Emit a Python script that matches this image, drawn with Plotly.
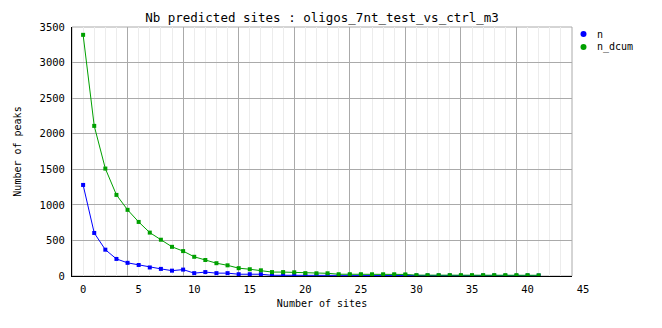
import plotly.graph_objects as go

sites = list(range(0, 42))
n = [1280, 605, 370, 240, 185, 155, 120, 100, 75, 90,
     40, 55, 40, 40, 25, 25, 25, 10, 10, 10,
     10, 10, 10, 3, 10, 10, 8, 8, 8, 8,
     5, 5, 5, 5, 2, 2, 5, 5, 2, 2,
     5, 5]
n_dcum = [3390, 2110, 1510, 1140, 930, 760, 610, 510, 410, 350,
          270, 225, 180, 150, 110, 95, 80, 55, 55, 52,
          40, 38, 38, 25, 25, 25, 24, 24, 24, 22,
          12, 12, 12, 12, 12, 12, 12, 12, 12, 12,
          12, 10]
x_tick_labels = [0, 5, 10, 15, 20, 25, 30, 35, 40, 45]
series_names = ["n", "n_dcum"]
series_colors = ["#0000ff", "#00a000"]

FONT = "DejaVu Sans Mono"

W, H = 662, 328
L, R, T, B = 72, 62, 27, 52
plot_w = 572 - 72
paper_w = W - L - R
paper_h = H - T - B
px_per_unit = plot_w / 45.0


def px_x(px):
    return (px - L) / paper_w


def px_y(py):
    return (H - B - py) / paper_h


fig = go.Figure()
for name, vals, col in zip(series_names, [n, n_dcum], series_colors):
    fig.add_trace(go.Scatter(x=sites, y=vals, mode="lines+markers", name=name,
                             line=dict(color=col, width=1),
                             marker=dict(symbol="square", size=4, color=col),
                             showlegend=False))
# invisible trace for the tick-label axis
fig.add_trace(go.Scatter(x=[None], y=[None], xaxis="x2", yaxis="y2",
                         showlegend=False, hoverinfo="skip"))

shapes = [dict(type="rect", xref="paper", yref="paper",
               x0=0, x1=plot_w / paper_w, y0=0, y1=1,
               line=dict(color="#aaaaaa", width=1), layer="below")]
annotations = []
leg_y = [34, 47]
for name, col, ly in zip(series_names, series_colors, leg_y):
    shapes.append(dict(type="circle", xref="paper", yref="paper",
                       x0=px_x(580.5), x1=px_x(586.5), y0=px_y(ly + 3), y1=px_y(ly - 3),
                       fillcolor=col, line=dict(color=col, width=0)))
    annotations.append(dict(text=name, xref="paper", yref="paper",
                            x=px_x(595), y=px_y(ly), xanchor="left", yanchor="middle",
                            showarrow=False, font=dict(family=FONT, size=10, color="black")))

fig.update_layout(
    width=W, height=H,
    margin=dict(l=L, r=R, t=T, b=B, autoexpand=False),
    paper_bgcolor="white", plot_bgcolor="rgba(0,0,0,0)",
    font=dict(family=FONT, size=10, color="black"),
    showlegend=False,
    title=dict(text="Nb predicted sites : oligos_7nt_test_vs_ctrl_m3",
               x=(plot_w / 2) / paper_w, xref="paper", xanchor="center",
               y=1 - 18 / H, yref="container", yanchor="middle",
               font=dict(family=FONT, size=12.5, color="black")),
    xaxis=dict(domain=[0, plot_w / paper_w], range=[-1, 44], anchor="y",
               tick0=-1, dtick=5, showticklabels=False, ticks="",
               showgrid=True, gridcolor="#aaaaaa", gridwidth=1,
               minor=dict(dtick=1, tick0=-1, showgrid=True, gridcolor="#ececec", gridwidth=1),
               zeroline=False, showline=True, linecolor="black", linewidth=1,
               title=dict(text="Number of sites", standoff=23,
                          font=dict(family=FONT, size=10))),
    xaxis2=dict(domain=[0, 1], range=[-1, -1 + paper_w / px_per_unit],
                anchor="y2", side="bottom",
                tickmode="array", tickvals=x_tick_labels,
                ticktext=[str(v) for v in x_tick_labels],
                ticks="outside", ticklen=3, tickcolor="rgba(0,0,0,0)",
                showgrid=False, zeroline=False, showline=False,
                tickfont=dict(family=FONT, size=10.5)),
    yaxis=dict(domain=[0, 1], range=[0, 3500], dtick=500, tick0=0, anchor="x",
               showgrid=True, gridcolor="#aaaaaa", gridwidth=1,
               zeroline=False, showline=True, linecolor="black", linewidth=1,
               ticks="outside", ticklen=4, tickcolor="rgba(0,0,0,0)",
               tickfont=dict(family=FONT, size=10.5),
               title=dict(text="Number of peaks", standoff=16,
                          font=dict(family=FONT, size=10))),
    yaxis2=dict(domain=[0, 1], range=[0, 1], anchor="x2",
                showgrid=False, zeroline=False, showline=False,
                showticklabels=False, ticks=""),
    shapes=shapes,
    annotations=annotations,
)

fig.write_html("out.html")
